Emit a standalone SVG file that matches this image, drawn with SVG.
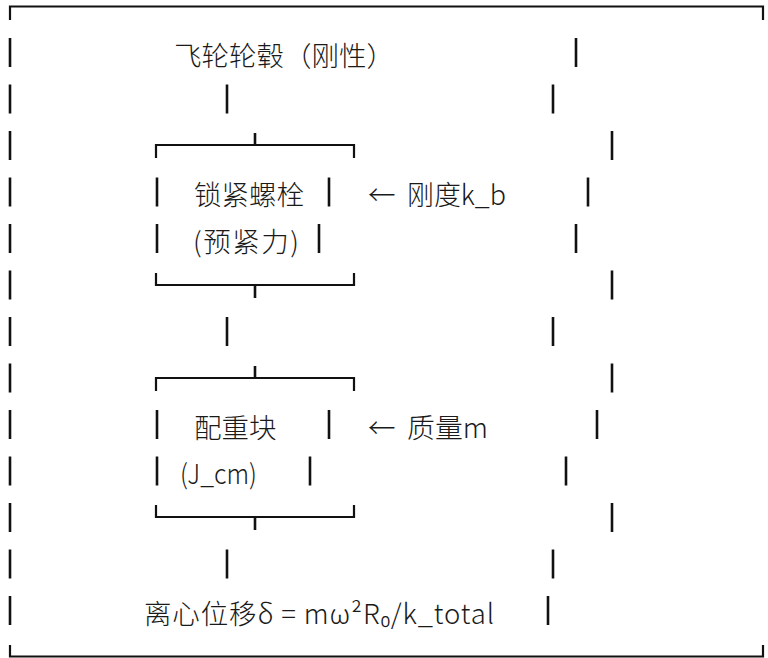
<svg xmlns="http://www.w3.org/2000/svg" width="768" height="658" viewBox="0 0 768 658">
<style>
.t{font-family:"Noto Sans CJK SC","Noto Sans",sans-serif;font-weight:300;font-size:27.5px;fill:#1a1a1a}
.ln{fill:none;stroke:#111;stroke-width:2.2;stroke-linecap:butt}
.p{stroke:#111;stroke-width:2.6}
</style>
<defs>
<line id="bar" x1="0" y1="-14.5" x2="0" y2="14.5" class="p"/>
</defs>
<rect width="768" height="658" fill="#fff"/>
<g id="frame">
<path class="ln" d="M10,20 V6.5 H763 V20"/>
<path class="ln" d="M10,645 V656.5 H763 V645"/>
<use href="#bar" x="10" y="52.5"/><use href="#bar" x="10" y="99"/><use href="#bar" x="10" y="145.5"/>
<use href="#bar" x="10" y="192"/><use href="#bar" x="10" y="238.5"/><use href="#bar" x="10" y="285"/>
<use href="#bar" x="10" y="331.5"/><use href="#bar" x="10" y="378"/><use href="#bar" x="10" y="424.5"/>
<use href="#bar" x="10" y="471"/><use href="#bar" x="10" y="517.5"/><use href="#bar" x="10" y="564"/>
<use href="#bar" x="10" y="610.5"/>
<use href="#bar" x="576" y="52.5"/><use href="#bar" x="553" y="99"/><use href="#bar" x="612" y="145.5"/>
<use href="#bar" x="588" y="192"/><use href="#bar" x="576" y="238.5"/><use href="#bar" x="612" y="285"/>
<use href="#bar" x="553" y="331.5"/><use href="#bar" x="612" y="378"/><use href="#bar" x="597" y="424.5"/>
<use href="#bar" x="566" y="471"/><use href="#bar" x="612" y="517.5"/><use href="#bar" x="553" y="564"/>
<use href="#bar" x="548" y="610.5"/>
</g>
<g id="hub">
<text class="t" x="174" y="65.5">飞轮轮毂（刚性）</text>
</g>
<g id="bolt">
<path class="ln" d="M156,158 V145 H354 V158"/>
<path class="ln" d="M156,273 V285 H354 V273"/>
<use href="#bar" x="157" y="192"/><use href="#bar" x="329" y="192"/>
<use href="#bar" x="157" y="238.5"/><use href="#bar" x="319" y="238.5"/>
<text class="t" x="194" y="205">锁紧螺栓</text>
<text class="t" x="193" y="251.5" textLength="106" lengthAdjust="spacing">(预紧力)</text>
</g>
<g id="bolt-label">
<text class="t" x="368" y="205">← <tspan x="407" textLength="99" lengthAdjust="spacingAndGlyphs">刚度k_b</tspan></text>
</g>
<g id="counterweight">
<path class="ln" d="M156,391 V378 H354 V391"/>
<path class="ln" d="M156,505 V517 H354 V505"/>
<use href="#bar" x="157" y="424.5"/><use href="#bar" x="329" y="424.5"/>
<use href="#bar" x="157" y="471"/><use href="#bar" x="310" y="471"/>
<text class="t" x="194" y="437.5">配重块</text>
<text class="t" x="180" y="484" textLength="77" lengthAdjust="spacingAndGlyphs">(J_cm)</text>
</g>
<g id="mass-label">
<text class="t" x="368" y="437.5">← <tspan x="407" textLength="81" lengthAdjust="spacingAndGlyphs">质量m</tspan></text>
</g>
<g id="displacement">
<text class="t" x="144" y="623.5" textLength="350" lengthAdjust="spacing">离心位移δ = mω²R₀/k_total</text>
</g>
<g id="connectors">
<line class="p" x1="255" y1="133" x2="255" y2="145"/>
<line class="p" x1="255" y1="285" x2="255" y2="298"/>
<line class="p" x1="255" y1="366" x2="255" y2="378"/>
<line class="p" x1="255" y1="517" x2="255" y2="530"/>
<use href="#bar" x="227" y="99"/>
<use href="#bar" x="227" y="331.5"/>
<use href="#bar" x="227" y="564"/>
</g>
</svg>
